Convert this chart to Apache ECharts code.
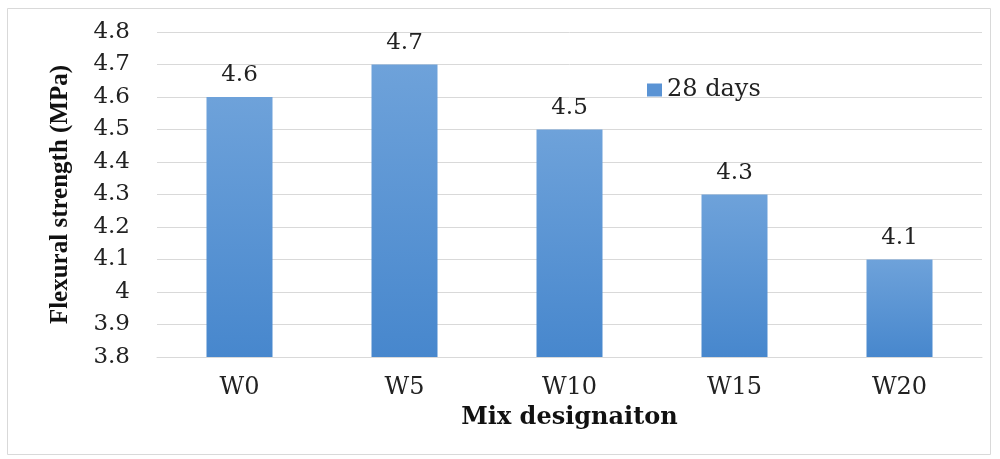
<!DOCTYPE html>
<html><head><meta charset="utf-8">
<script src="https://cdn.jsdelivr.net/npm/echarts@6/dist/echarts.min.js"></script>
<style>html,body{margin:0;padding:0;background:#fff}#c{width:1000px;height:459px}</style>
</head><body><div id="c"></div>
<script>
const categories = ['W0','W5','W10','W15','W20'];
const values28 = [4.6, 4.7, 4.5, 4.3, 4.1];
const seriesName = '28 days';
const yTicks = [3.8,3.9,4,4.1,4.2,4.3,4.4,4.5,4.6,4.7,4.8];
const font = '"DejaVu Serif", "Liberation Serif", serif';
const fontT = '"Liberation Serif", "DejaVu Serif", serif';
const chart = echarts.init(document.getElementById('c'));
chart.setOption({
  animation: false,
  backgroundColor: '#fff',
  graphic: [{type:'rect', shape:{x:7.5,y:8.5,width:983,height:446}, style:{fill:'none', stroke:'#d9d9d9', lineWidth:1}}],
  grid: {left:157, right:18, top:32, bottom:102},
  legend: {
    data:[{name:seriesName, itemStyle:{color:'#5a93d4'}}], left:642, top:73, itemWidth:15, itemHeight:13, itemGap:4,
    icon:'rect',
    textStyle:{fontFamily:font, fontSize:24, color:'#222'}
  },
  xAxis: {
    type:'category', data:categories,
    name:'Mix designaiton', nameLocation:'middle', nameGap:49,
    nameTextStyle:{fontFamily:font, fontSize:24, fontWeight:'bold', color:'#111'},
    axisLine:{show:true, lineStyle:{color:'#d9d9d9'}},
    axisTick:{show:false},
    axisLabel:{fontFamily:font, fontSize:24, color:'#222', margin:19}
  },
  yAxis: {
    type:'value', min:3.8, max:4.8, interval:0.1,
    name:'Flexural strength (MPa)', nameLocation:'middle', nameGap:84,
    nameTextStyle:{fontFamily:fontT, fontSize:25, fontWeight:'bold', color:'#111'},
    axisLine:{show:false}, axisTick:{show:false},
    splitLine:{lineStyle:{color:'#d9d9d9'}},
    axisLabel:{fontFamily:font, fontSize:23, color:'#222', margin:27,
      formatter: v => { const t = yTicks.find(x => Math.abs(x - v) < 1e-6); return t === undefined ? '' : String(t); }}
  },
  series: [{
    name: seriesName, type:'bar', data: values28, barWidth:66,
    itemStyle:{color: new echarts.graphic.LinearGradient(0,0,0,1,[{offset:0,color:'#6ea2da'},{offset:1,color:'#4787cd'}])},
    label:{show:true, position:'top', distance:10, fontFamily:font, fontSize:23, color:'#222'}
  }]
});
</script></body></html>
